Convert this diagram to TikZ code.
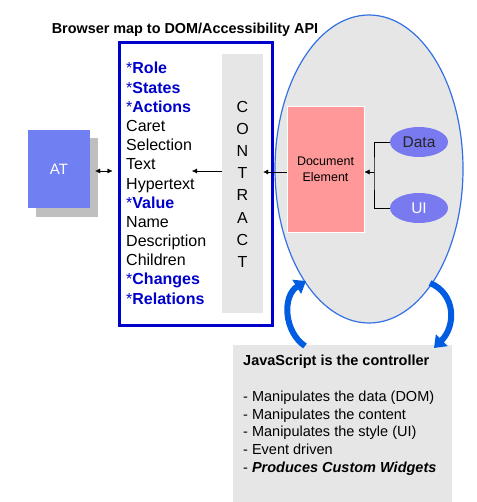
\documentclass[tikz,border=0pt]{standalone}
\usepackage{fontspec}
\setmainfont{Liberation Sans}
\usetikzlibrary{shapes.geometric,arrows.meta}

\definecolor{apiblue}{RGB}{0,0,204}
\definecolor{panelgray}{RGB}{230,230,230}
\definecolor{atblue}{RGB}{112,128,242}
\definecolor{atshadow}{RGB}{191,191,191}
\definecolor{docpink}{RGB}{255,153,153}
\definecolor{rimblue}{RGB}{51,112,230}
\definecolor{curlblue}{RGB}{0,92,224}
\definecolor{pillblue}{RGB}{122,122,240}
\newcommand{\key}[1]{\textcolor{apiblue}{*\textbf{#1}}}

\begin{document}
\begin{tikzpicture}[x=1pt, y=-1pt,
        plain/.style={rectangle, inner sep=0pt},
        tip/.style={-{Latex[length=5pt,width=5pt]}},
        curl/.style={line width=6pt, curlblue, -{Triangle[width=16pt,length=11pt]}},
        item/.style={anchor=base west, inner sep=0pt, font=\fontsize{16}{19}\selectfont},
        jsitem/.style={anchor=base west, inner sep=0pt, font=\fontsize{14.5}{17}\selectfont},
        pill/.style={ellipse, fill=pillblue, minimum width=58pt, minimum height=30pt,
            inner sep=0pt, font=\fontsize{15.5}{18}\selectfont}]
        \useasboundingbox (0,0) rectangle (476,502);

        % Title
        \node [plain, font=\fontsize{14.4}{17}\selectfont\bfseries] (title) at (185,30)
            {Browser map to DOM/Accessibility API};

        % AT box and shadow
        \node [plain, fill=atshadow, minimum width=62pt, minimum height=79pt] (atshade) at (67,178) {};
        \node [plain, fill=atblue, minimum width=62pt, minimum height=78pt, text=white,
            font=\fontsize{15}{18}\selectfont] (at) at (59,169) {AT};

        % API box with its list
        \node [plain, draw=apiblue, line width=3pt, minimum width=153pt, minimum height=282pt] (api) at (195.5,184) {};
        \foreach \txt [count=\i] in {\key{Role}, \key{States}, \key{Actions}, Caret, Selection, Text,
                Hypertext, \key{Value}, Name, Description, Children, \key{Changes}, \key{Relations}}
            \node [item] (l\i) at (126,{74+19.17*(\i-1)}) {\txt};

        % Contract column
        \node [plain, fill=panelgray, minimum width=41pt, minimum height=259pt] (contract) at (242.5,183.5) {};
        \foreach \ch [count=\i] in {C,O,N,T,R,A,C,T}
            \node [plain, font=\fontsize{16}{19}\selectfont] (c\i) at (242.5,{107+22.1*(\i-1)}) {\ch};

        % DOM ellipse, document element, data and UI
        \node [ellipse, draw=rimblue, line width=1.2pt, fill=panelgray, minimum width=188pt,
            minimum height=308pt, inner sep=0pt] (dom) at (369,169) {};
        \node [plain, fill=docpink, draw=white, line width=1pt, minimum width=77pt, minimum height=125pt,
            align=center, font=\fontsize{12.5}{16}\selectfont] (doc) at (325.5,169.5) {Document\\Element};
        \node [pill, text=black!85] (data) at (419,142) {Data};
        \node [pill, text=white] (ui) at (419,208) {UI};

        % Connectors
        \coordinate (fork) at (374,172);
        \draw (data.west) -| (fork) |- (ui.west);
        \draw [tip] (fork) -- (fork -| doc.east);
        \draw [tip] (doc.west |- fork) -- (contract.east |- fork);
        \coordinate (textend) at (192,171);
        \draw [tip] (contract.west |- textend) -- (textend);
        \draw [{Latex[length=5pt,width=5pt]}-{Latex[length=5pt,width=5pt]}, shorten <=5pt, shorten >=5pt]
            (at.east |- textend) -- (api.west |- textend);

        % JavaScript box
        \node [plain, fill=panelgray, minimum width=219pt, minimum height=157pt] (js) at (342.5,423.5) {};
        \node [jsitem, font=\fontsize{14.5}{17}\selectfont\bfseries] (jstitle) at (243,365) {JavaScript is the controller};
        \foreach \txt [count=\i] in {Manipulates the data (DOM), Manipulates the content,
                Manipulates the style (UI), Event driven, \textbf{\textit{Produces Custom Widgets}}}
            \node [jsitem] (js\i) at (243,{401.5+17.7*(\i-1)}) {- \txt};

        % Curved arrows
        \coordinate (upfoot) at (305,346);
        \coordinate (uphead) at (306,281);
        \coordinate (downfoot) at (430,283);
        \coordinate (downhead) at (434,348);
        \draw [curl] (upfoot) .. controls (284,332) and (282,296) .. (uphead);
        \draw [curl] (downfoot) .. controls (456,294) and (456,326) .. (downhead);
    \end{tikzpicture}
\end{document}
